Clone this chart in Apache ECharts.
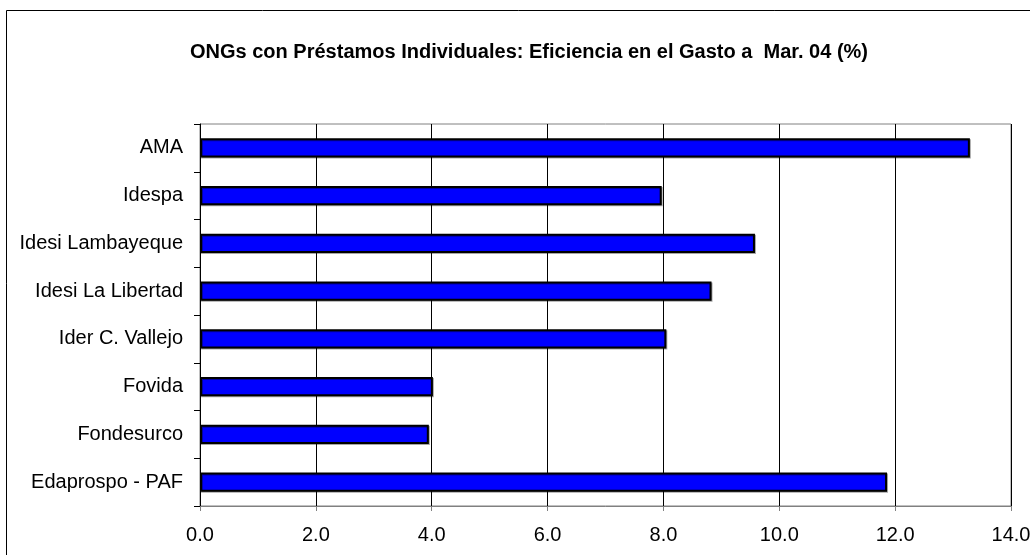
<!DOCTYPE html>
<html>
<head>
<meta charset="utf-8">
<script src="https://cdn.jsdelivr.net/npm/echarts@6/dist/echarts.min.js"></script>
<style>
  html, body { margin: 0; padding: 0; background: #fff; }
  #chart { width: 1030px; height: 555px; }
</style>
</head>
<body>
<div id="chart"></div>
<script>
// categorías (de abajo hacia arriba, como en el eje Y)
const categorias = [
  'Edaprospo - PAF',
  'Fondesurco',
  'Fovida',
  'Ider C. Vallejo',
  'Idesi La Libertad',
  'Idesi Lambayeque',
  'Idespa',
  'AMA'
];

// eficiencia en el gasto (%)
const eficiencia = [11.86, 3.95, 4.02, 8.05, 8.83, 9.58, 7.97, 13.29];

const titulo = 'ONGs con Préstamos Individuales: Eficiencia en el Gasto a  Mar. 04 (%)';
const fuente = '"Liberation Sans", Arial, sans-serif';

const chart = echarts.init(document.getElementById('chart'), null, { renderer: 'canvas' });

const option = {
  animation: false,
  backgroundColor: '#fff',
  title: {
    text: titulo,
    left: 524,
    top: 37,
    textAlign: 'center',
    textStyle: { fontFamily: fuente, fontSize: 20, fontWeight: 'bold', color: '#000' }
  },
  // marco exterior del gráfico
  graphic: [{
    type: 'rect',
    shape: { x: 6.5, y: 10.5, width: 1100, height: 700 },
    style: { fill: null, stroke: '#000', lineWidth: 1 },
    silent: true
  }],
  grid: {
    left: 200,
    right: 19,
    top: 124,
    bottom: 49,
    outerBoundsMode: 'none',
    show: true,
    borderColor: '#808080',
    borderWidth: 1
  },
  xAxis: {
    type: 'value',
    min: 0,
    max: 14,
    interval: 2,
    axisLine: { show: true, lineStyle: { color: '#808080', width: 1 } },
    axisTick: { show: true, length: 5, lineStyle: { color: '#808080' } },
    axisLabel: {
      fontFamily: fuente, fontSize: 20, color: '#000', margin: 19,
      formatter: v => v.toFixed(1)
    },
    splitLine: { show: true, lineStyle: { color: '#000', width: 1 } }
  },
  yAxis: {
    type: 'category',
    data: categorias,
    axisLine: { show: true, lineStyle: { color: '#000', width: 1 } },
    axisTick: { show: true, length: 6, lineStyle: { color: '#000' } },
    axisLabel: { fontFamily: fuente, fontSize: 20, color: '#000', margin: 17 },
    splitLine: { show: false }
  },
  series: [{
    type: 'bar',
    data: eficiencia,
    barWidth: '40%',
    itemStyle: {
      color: '#0000ff',
      borderColor: '#000',
      borderWidth: 2,
      shadowColor: 'rgba(0,0,0,0.35)',
      shadowOffsetX: 1,
      shadowOffsetY: 1
    }
  }]
};

chart.setOption(option);
</script>
</body>
</html>
